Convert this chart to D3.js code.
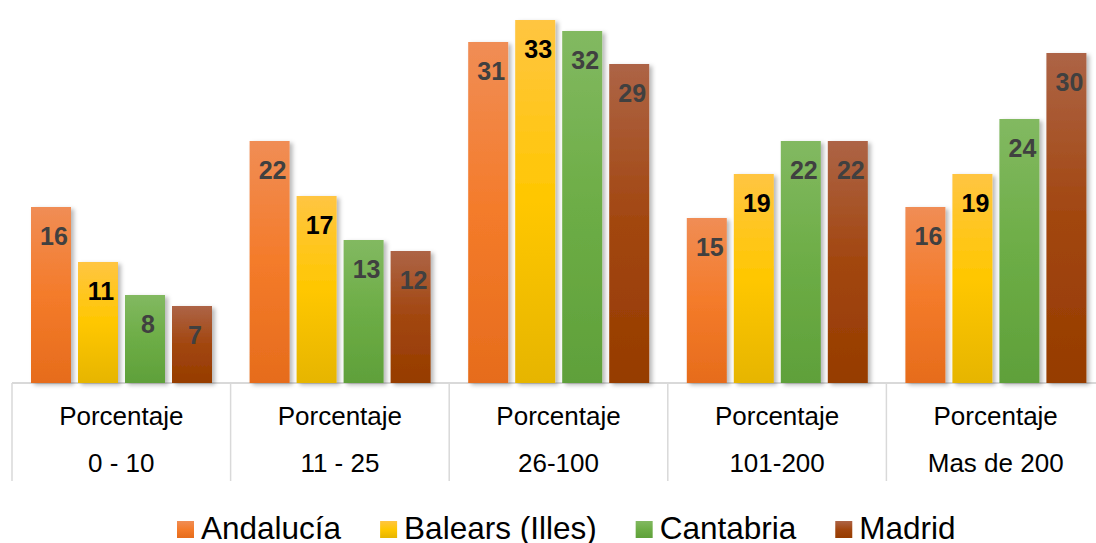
<!doctype html>
<html lang="es">
<head>
<meta charset="utf-8">
<title>Porcentaje por comunidad</title>
<style>
  body { margin: 0; background: #fff; }
  text { font-family: "Liberation Sans", Arial, sans-serif; }
</style>
</head>
<body>
<script src="https://d3js.org/d3.v7.min.js"></script>
<script>
var categories = ["0 - 10", "11 - 25", "26-100", "101-200", "Mas de 200"];
var categoryPrefix = "Porcentaje";
var seriesNames = ["Andalucía", "Balears (Illes)", "Cantabria", "Madrid"];
var andalucia = [16, 22, 31, 15, 16];
var balears = [11, 17, 33, 19, 19];
var cantabria = [8, 13, 32, 22, 24];
var madrid = [7, 12, 29, 22, 30];
var seriesValues = [andalucia, balears, cantabria, madrid];

// gradient stops top / middle / bottom, and label colour, per series
var gradients = [
  ["#F08D55", "#F47B2A", "#E66C1C"],
  ["#FFC542", "#FFC700", "#E6B500"],
  ["#82B961", "#6DAD46", "#5FA03A"],
  ["#AD6446", "#A2460F", "#963C00"]
];
var labelColors = ["#404040", "#000000", "#404040", "#404040"];

var width = 1096, height = 543;
var baseY = 383;

var svg = d3.select("body").append("svg")
  .attr("width", width)
  .attr("height", height);

var defs = svg.append("defs");
gradients.forEach(function(g, i) {
  var lg = defs.append("linearGradient")
    .attr("id", "grad" + i)
    .attr("x1", 0).attr("y1", 0).attr("x2", 0).attr("y2", 1);
  lg.append("stop").attr("offset", "0%").attr("stop-color", g[0]);
  lg.append("stop").attr("offset", "50%").attr("stop-color", g[1]);
  lg.append("stop").attr("offset", "100%").attr("stop-color", g[2]);
});
defs.append("filter").attr("id", "shadow")
  .attr("x", "-20%").attr("y", "-10%").attr("width", "150%").attr("height", "130%")
  .append("feDropShadow")
  .attr("dx", 3).attr("dy", 2).attr("stdDeviation", 2)
  .attr("flood-color", "#000").attr("flood-opacity", 0.28);

var x0 = d3.scaleBand()
  .domain(categories)
  .range([12, 12 + 5 * 218.6]);

var x1 = d3.scaleBand()
  .domain(seriesNames)
  .range([19, 200])
  .paddingInner(0.149);

var y = d3.scaleLinear()
  .domain([0, 35])
  .range([baseY, baseY - 385]);

// category separators and baseline
var grid = svg.append("g");
grid.selectAll("line.sep")
  .data(categories.concat(["end"]))
  .enter().append("line")
  .attr("class", "sep")
  .attr("x1", function(d, i) { return 12 + i * x0.step(); })
  .attr("x2", function(d, i) { return 12 + i * x0.step(); })
  .attr("y1", baseY)
  .attr("y2", 481)
  .attr("stroke", "#D9D9D9")
  .attr("stroke-width", 1.5);
grid.append("line")
  .attr("x1", 12).attr("x2", width)
  .attr("y1", baseY).attr("y2", baseY)
  .attr("stroke", "#D9D9D9")
  .attr("stroke-width", 2);

// bars
var groups = svg.selectAll("g.cat")
  .data(categories)
  .enter().append("g")
  .attr("class", "cat")
  .attr("transform", function(d) { return "translate(" + x0(d) + ",0)"; });

groups.selectAll("rect")
  .data(function(d, ci) {
    return seriesNames.map(function(s, si) { return {s: s, si: si, v: seriesValues[si][ci]}; });
  })
  .enter().append("rect")
  .attr("x", function(d) { return x1(d.s); })
  .attr("y", function(d) { return y(d.v); })
  .attr("width", x1.bandwidth())
  .attr("height", function(d) { return baseY - y(d.v); })
  .attr("fill", function(d) { return "url(#grad" + d.si + ")"; })
  .attr("filter", "url(#shadow)");

groups.selectAll("text.val")
  .data(function(d, ci) {
    return seriesNames.map(function(s, si) { return {s: s, si: si, v: seriesValues[si][ci]}; });
  })
  .enter().append("text")
  .attr("class", "val")
  .attr("x", function(d) { return x1(d.s) + x1.bandwidth() / 2 + 3; })
  .attr("y", function(d) { return y(d.v) + 38; })
  .attr("text-anchor", "middle")
  .attr("font-size", 25)
  .attr("font-weight", "bold")
  .attr("fill", function(d) { return labelColors[d.si]; })
  .text(function(d) { return d.v; });

// category labels
var labels = svg.append("g");
labels.selectAll("text.l1")
  .data(categories)
  .enter().append("text")
  .attr("x", function(d) { return x0(d) + x0.bandwidth() / 2; })
  .attr("y", 425)
  .attr("text-anchor", "middle")
  .attr("font-size", 26)
  .attr("fill", "#000")
  .text(categoryPrefix);
labels.selectAll("text.l2")
  .data(categories)
  .enter().append("text")
  .attr("x", function(d) { return x0(d) + x0.bandwidth() / 2; })
  .attr("y", 472)
  .attr("text-anchor", "middle")
  .attr("font-size", 26)
  .attr("fill", "#000")
  .text(function(d) { return d; });

// legend
var legend = svg.append("g");
var lx = 177;
seriesNames.forEach(function(s, i) {
  legend.append("rect")
    .attr("x", lx).attr("y", 521)
    .attr("width", 17).attr("height", 17)
    .attr("fill", "url(#grad" + i + ")");
  var t = legend.append("text")
    .attr("x", lx + 24).attr("y", 539)
    .attr("font-size", 31.5)
    .attr("fill", "#000")
    .text(s);
  lx += 24 + t.node().getComputedTextLength() + 39;
});
</script>
</body>
</html>
